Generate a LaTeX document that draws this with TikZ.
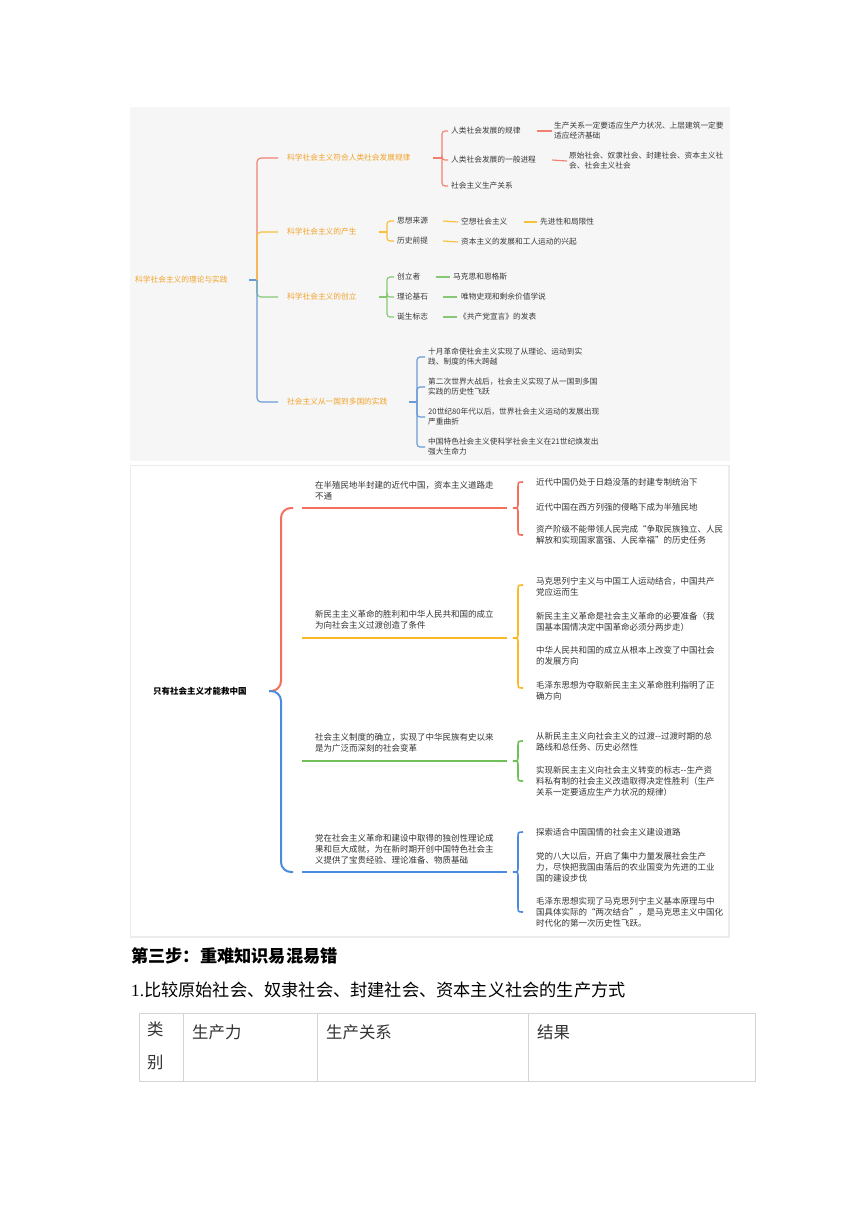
\documentclass[tikz,border=0pt]{standalone}
\usepackage{fontspec}
\setmainfont{Noto Sans CJK SC}
\newfontfamily\lserif{Liberation Serif}
\definecolor{tred}{HTML}{F0806F}
\definecolor{torange}{HTML}{F8C03A}
\definecolor{torangeT}{HTML}{F2A32A}
\definecolor{tgreen}{HTML}{86C874}
\definecolor{tblue}{HTML}{6A9AD8}
\definecolor{bred}{HTML}{F4705C}
\definecolor{borange}{HTML}{FDB827}
\definecolor{bgreen}{HTML}{6FC058}
\definecolor{bblue}{HTML}{4A8BDF}
\definecolor{txtA}{HTML}{383838}
\definecolor{txtB}{HTML}{333333}
\definecolor{panelA}{HTML}{F6F6F6}
\definecolor{panelB}{HTML}{ECECEC}
\definecolor{tabline}{HTML}{D4D4D4}
\newcommand\mybrace[4]{%
  \draw[#4, line width=1.6pt] (523,#1) .. controls (518,#1) .. (518,{#1+6}) -- (518,{#2-5}) .. controls (518,#2) .. (513,#2) .. controls (518,#2) .. (518,{#2+5}) -- (518,{#3-6}) .. controls (518,#3) .. (523,#3);}
\begin{document}
\begin{tikzpicture}[x=1pt,y=-1pt,
  tt/.style={inner sep=0pt, anchor=west, align=left, text=txtA, font=\fontsize{7.7}{10}\selectfont},
  tb/.style={tt, text=torangeT},
  st/.style={inner sep=0pt, anchor=west, align=left, text=txtB, font=\fontsize{8.5}{11.2}\selectfont},
  ln1/.style={line width=1.15pt},
  ln2/.style={line width=2pt},
  big/.style={inner sep=0pt, anchor=west, text=black, font=\fontsize{17.2}{20}\selectfont},
  tab/.style={inner sep=0pt, anchor=west, align=left, text=txtB, font=\fontsize{16.4}{33}\selectfont}]
\useasboundingbox (0,0) rectangle (860,1216);
\fill[white] (0,0) rectangle (860,1216);
% ---------- panel 1 ----------
\fill[panelA] (130,107) rectangle (730,461);
\node[tb] (R) at (135,280) {科学社会主义的理论与实践};
\node[tb] (B1) at (287,158) {科学社会主义符合人类社会发展规律};
\node[tb] (B2) at (287,232) {科学社会主义的产生};
\node[tb] (B3) at (287,297) {科学社会主义的创立};
\node[tb] (B4) at (287,402) {社会主义从一国到多国的实践};
\node[tt] (c11) at (451,131) {人类社会发展的规律};
\node[tt] (c12) at (451,160) {人类社会发展的一般进程};
\node[tt] (c13) at (451,186) {社会主义生产关系};
\node[tt] (g11) at (554,131) {生产关系一定要适应生产力状况、上层建筑一定要\\适应经济基础};
\node[tt] (g12) at (569,161) {原始社会、奴隶社会、封建社会、资本主义社\\会、社会主义社会};
\node[tt] (c21) at (397,221) {思想来源};
\node[tt] (c22) at (397,241) {历史前提};
\node[tt] (g21) at (461,222) {空想社会主义};
\node[tt] (h21) at (540,222) {先进性和局限性};
\node[tt] (g22) at (461,242) {资本主义的发展和工人运动的兴起};
\node[tt] (c31) at (397,277) {创立者};
\node[tt] (c32) at (397,297) {理论基石};
\node[tt] (c33) at (397,317) {诞生标志};
\node[tt] (g31) at (453,277) {马克思和恩格斯};
\node[tt] (g32) at (461,297) {唯物史观和剩余价值学说};
\node[tt] (g33) at (459,317) {《共产党宣言》的发表};
\node[tt] (c41) at (428,357) {十月革命使社会主义实现了从理论、运动到实\\践、制度的伟大跨越};
\node[tt] (c42) at (428,387) {第二次世界大战后，社会主义实现了从一国到多国\\实践的历史性飞跃};
\node[tt] (c43) at (428,417) {20世纪80年代以后，世界社会主义运动的发展出现\\严重曲折};
\node[tt] (c44) at (428,447) {中国特色社会主义使科学社会主义在21世纪焕发出\\强大生命力};
% main bracket
\coordinate (rs) at (249,280);
\coordinate (rj) at (257,280);
\draw[tblue, ln1] (rs) -- (rj);
\draw[tred, ln1, rounded corners=4pt] (rj) |- ([xshift=-9pt]B1.west);
\draw[torange, ln1, rounded corners=4pt] (rj) |- ([xshift=-9pt]B2.west);
\draw[tgreen, ln1, rounded corners=4pt] (rj) |- ([xshift=-9pt]B3.west);
\draw[tblue, ln1, rounded corners=4pt] (rj) |- ([xshift=-9pt]B4.west);
% branch 1
\coordinate (j1s) at (433,158); \coordinate (j1) at (442,158);
\draw[tred, ln1] (j1s) -- (j1);
\foreach \c in {c11,c12,c13} \draw[tred, ln1, rounded corners=3pt] (j1) |- ([xshift=-3pt]\c.west);
\draw[tred, ln1] ([xshift=16pt]c11.east) -- ([xshift=-2pt]g11.west);
\draw[tred, ln1] ([xshift=16pt]c12.east) -- ([xshift=-2pt]g12.west);
% branch 2
\coordinate (j2s) at (379,232); \coordinate (j2) at (387,232);
\draw[torange, ln1] (j2s) -- (j2);
\foreach \c in {c21,c22} \draw[torange, ln1, rounded corners=3pt] (j2) |- ([xshift=-3pt]\c.west);
\draw[torange, ln1] ([xshift=15pt]c21.east) -- ([xshift=-3pt]g21.west);
\draw[torange, ln1] ([xshift=16pt]g21.east) -- ([xshift=-3pt]h21.west);
\draw[torange, ln1] ([xshift=15pt]c22.east) -- ([xshift=-3pt]g22.west);
% branch 3
\coordinate (j3s) at (379,297); \coordinate (j3) at (387,297);
\draw[tgreen, ln1] (j3s) -- (j3);
\foreach \c in {c31,c32,c33} \draw[tgreen, ln1, rounded corners=3pt] (j3) |- ([xshift=-3pt]\c.west);
\draw[tgreen, ln1] ([xshift=15pt]c31.east) -- ([xshift=-3pt]g31.west);
\draw[tgreen, ln1] ([xshift=15pt]c32.east) -- ([xshift=-4pt]g32.west);
\draw[tgreen, ln1] ([xshift=15pt]c33.east) -- ([xshift=-2pt]g33.west);
% branch 4
\coordinate (j4s) at (409,402); \coordinate (j4) at (417,402);
\draw[tblue, ln1] (j4s) -- (j4);
\foreach \c in {c41,c42,c43,c44} \draw[tblue, ln1, rounded corners=3pt] (j4) |- ([xshift=-3pt]\c.west);
% ---------- panel 2 ----------
\draw[panelB, line width=1.5pt, fill=white] (130.5,465.5) rectangle (729,937);
\node[inner sep=0pt, anchor=west, text=black, font=\fontsize{8.5}{11}\selectfont\bfseries] (S) at (153,691) {只有社会主义才能救中国};
\node[st] (SB1) at (315,491) {在半殖民地半封建的近代中国，资本主义道路走\\不通};
\node[st] (SB2) at (315,620) {新民主主义革命的胜利和中华人民共和国的成立\\为向社会主义过渡创造了条件};
\node[st] (SB3) at (315,743) {社会主义制度的确立，实现了中华民族有史以来\\是为广泛而深刻的社会变革};
\node[st] (SB4) at (315,849) {党在社会主义革命和建设中取得的独创性理论成\\果和巨大成就，为在新时期开创中国特色社会主\\义提供了宝贵经验、理论准备、物质基础};
\coordinate (sj) at (269,691);
\coordinate (bt) at (293,508);
\coordinate (bb) at (293,872);
\draw[bred, ln2, rounded corners=10pt] (sj) -| ([xshift=-12pt]bt) -- (bt);
\draw[bblue, ln2, rounded corners=10pt] (sj) -| ([xshift=-12pt]bb) -- (bb);
\coordinate (l1a) at (302,508); \coordinate (l1b) at (507,508);
\coordinate (l2a) at (302,638); \coordinate (l2b) at (507,638);
\coordinate (l3a) at (302,761); \coordinate (l3b) at (507,761);
\coordinate (l4a) at (302,872); \coordinate (l4b) at (507,872);
\draw[bred, ln2] (l1a) -- (l1b);
\draw[borange, ln2] (l2a) -- (l2b);
\draw[bgreen, ln2] (l3a) -- (l3b);
\draw[bblue, ln2] (l4a) -- (l4b);
\mybrace{482}{508}{535}{bred}
\mybrace{585}{638}{688}{borange}
\mybrace{741}{761}{781}{bgreen}
\mybrace{832}{872}{912}{bblue}
\node[st] (d11) at (536,482) {近代中国仍处于日趋没落的封建专制统治下};
\node[st] (d12) at (536,507) {近代中国在西方列强的侵略下成为半殖民地};
\node[st] (d13) at (536,535) {资产阶级不能带领人民完成“争取民族独立、人民\\解放和实现国家富强、人民幸福”的历史任务};
\node[st] (d21) at (536,586.5) {马克思列宁主义与中国工人运动结合，中国共产\\党应运而生};
\node[st] (d22) at (536,622) {新民主主义革命是社会主义革命的必要准备（我\\国基本国情决定中国革命必须分两步走）};
\node[st] (d23) at (536,655.5) {中华人民共和国的成立从根本上改变了中国社会\\的发展方向};
\node[st] (d24) at (536,690.5) {毛泽东思想为夺取新民主主义革命胜利指明了正\\确方向};
\node[st] (d31) at (536,741.5) {从新民主主义向社会主义的过渡{-}{-}过渡时期的总\\路线和总任务、历史必然性};
\node[st] (d32) at (536,781.5) {实现新民主主义向社会主义转变的标志{-}{-}生产资\\料私有制的社会主义改造取得决定性胜利（生产\\关系一定要适应生产力状况的规律）};
\node[st] (d41) at (536,832) {探索适合中国国情的社会主义建设道路};
\node[st] (d42) at (536,867) {党的八大以后，开启了集中力量发展社会生产\\力，尽快把我国由落后的农业国变为先进的工业\\国的建设步伐};
\node[st] (d43) at (536,912.5) {毛泽东思想实现了马克思列宁主义基本原理与中\\国具体实际的“两次结合”，是马克思主义中国化\\时代化的第一次历史性飞跃。};
% ---------- bottom text ----------
\node[big, font=\fontsize{17.2}{20}\selectfont\bfseries] (H) at (131,956) {第三步：重难知识易混易错};
\node[big] (P) at (131,990) {{\lserif 1.}比较原始社会、奴隶社会、封建社会、资本主义社会的生产方式};
\draw[tabline, line width=1pt] (139,1013) rectangle (755,1081);
\draw[tabline, line width=1pt] (183,1013) -- (183,1081);
\draw[tabline, line width=1pt] (317,1013) -- (317,1081);
\draw[tabline, line width=1pt] (528,1013) -- (528,1081);
\node[tab, anchor=north west] (T1) at (147,1022) {类\\别};
\node[tab] (T2) at (192,1032) {生产力};
\node[tab] (T3) at (326,1032) {生产关系};
\node[tab] (T4) at (537,1032) {结果};
\end{tikzpicture}
\end{document}
